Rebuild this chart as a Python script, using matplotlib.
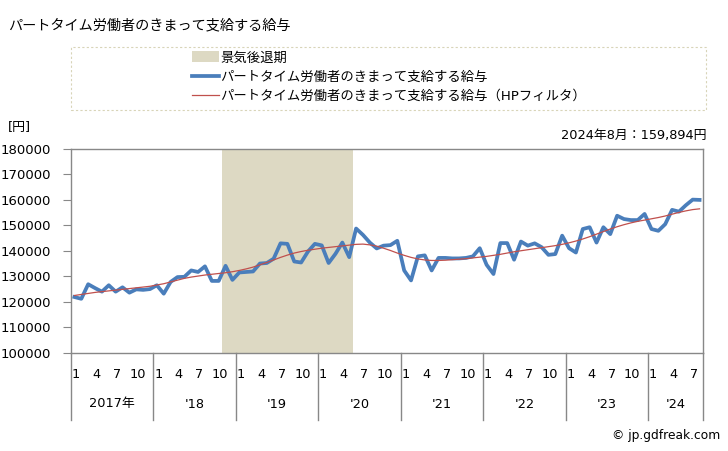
import numpy as np
import matplotlib.pyplot as plt
from matplotlib.patches import Rectangle, Patch
from matplotlib.lines import Line2D
import matplotlib.transforms as mtransforms

plt.rcParams['font.family'] = ['DejaVu Sans', 'Noto Sans CJK JP']

# monthly data, Jan 2017 .. Aug 2024
start_year = 2017
n_months = 92
wage = [121900, 121200, 126900, 125400, 124000, 126500, 124000, 125700, 123600, 124900, 124700, 125000,
        126500, 123200, 127800, 129700, 129800, 132300, 131700, 133900, 128200, 128200, 134100, 128600,
        131500, 131700, 131900, 135000, 135200, 136900, 142900, 142700, 135800, 135400, 139700, 142700,
        142100, 135200, 138800, 143200, 137500, 148700, 146200, 143200, 140900, 142000, 142200, 143900,
        132300, 128400, 137800, 138200, 132300, 137200, 137200, 137000, 137000, 137200, 137800, 141000,
        134500, 130900, 143000, 143000, 136500, 143600, 142000, 142900, 141400, 138400, 138700, 145900,
        141000, 139300, 148500, 149200, 143200, 149200, 146500, 153700, 152400, 152000, 152000, 154400,
        148500, 147800, 150400, 156000, 155300, 157800, 160000, 159894]
trend = [122500, 122900, 123300, 123700, 124000, 124300, 124600, 124900, 125200, 125500, 125800, 126100,
         126600, 127100, 127800, 128500, 129200, 129700, 130100, 130500, 130800, 131100, 131400, 131800,
         132300, 132900, 133600, 134500, 135400, 136400, 137400, 138300, 139100, 139700, 140200, 140600,
         141000, 141300, 141600, 141900, 142200, 142500, 142600, 142300, 141800, 141000, 140100, 139100,
         138200, 137400, 136800, 136400, 136200, 136200, 136300, 136500, 136700, 136900, 137200, 137500,
         137800, 138200, 138600, 139100, 139600, 140000, 140400, 140800, 141200, 141600, 142000, 142500,
         143100, 143800, 144600, 145500, 146500, 147500, 148500, 149400, 150200, 150900, 151500, 152000,
         152500, 153000, 153600, 154300, 155000, 155600, 156100, 156400]
# recession: Nov 2018 .. May 2020 (month index)
recession = (22, 40)
year_labels = ['2017年', "'18", "'19", "'20", "'21", "'22", "'23", "'24"]
month_labels = ['1', '4', '7', '10']

title = 'パートタイム労働者のきまって支給する給与'
lbl_rec = '景気後退期'
lbl_wage = 'パートタイム労働者のきまって支給する給与'
lbl_trend = 'パートタイム労働者のきまって支給する給与（HPフィルタ）'
latest = '2024年8月：159,894円'

blue = '#4A7EBB'
red = '#C0504D'
tan = '#DDD9C3'
gray = '#888888'

W, H = 728, 451
fig = plt.figure(figsize=(W / 100, H / 100), dpi=100)
L, R, T, B = 71, 703, 148.5, 353
ax = fig.add_axes([L / W, 1 - B / H, (R - L) / W, (B - T) / H])

x = np.arange(n_months) + 0.5
ax.axvspan(recession[0], recession[1] + 1, color=tan, lw=0, zorder=1)
ax.plot(x, wage, color=blue, lw=2.7, zorder=3)
ax.plot(x, trend, color=red, lw=0.9, zorder=4)

ax.set_xlim(0, n_months)
ax.set_ylim(100000, 180000)
ax.set_yticks(np.arange(100000, 180001, 10000))
ax.set_yticklabels([str(v) for v in range(100000, 180001, 10000)], fontsize=9.5)
ax.tick_params(axis='y', direction='out', length=6, color=gray, pad=8.4)
ax.set_xticks([])
for s in ax.spines.values():
    s.set_color(gray)
    s.set_linewidth(1)

# two-level category axis
trans = mtransforms.blended_transform_factory(ax.transData, ax.transAxes)
axh = (B - T)
y_sep = -(420 - B) / axh
y_month = -(374 - B) / axh
y_year = -(404 - B) / axh
bounds = list(range(0, n_months, 12)) + [n_months]
for b in bounds:
    ax.plot([b, b], [0, y_sep], color=gray, lw=1, transform=trans, clip_on=False)
for k, yl in enumerate(year_labels):
    lo, hi = bounds[k], bounds[k + 1]
    ax.text((lo + hi) / 2, y_year, yl, transform=trans, ha='center', va='center', fontsize=9.3)
for i in range(n_months):
    m = i % 12 + 1
    if str(m) in month_labels:
        ax.text(i + 0.7, y_month, str(m), transform=trans, ha='center', va='center', fontsize=9.3)

# texts
fig.text(8 / W, 1 - 25 / H, title, fontsize=10.2, va='center', ha='left')
fig.text(8 / W, 1 - 127 / H, '[円]', fontsize=9.3, va='center', ha='left')
fig.text(706 / W, 1 - 135 / H, latest, fontsize=9.3, va='center', ha='right')
fig.text(720 / W, 1 - 435 / H, '© jp.gdfreak.com', fontsize=8.8, va='center', ha='right')

# legend box
fig.patches.append(Rectangle((71 / W, 1 - 110 / H), (706 - 71) / W, (110 - 47) / H,
                             transform=fig.transFigure, fill=False, ec='#D8D4B8',
                             lw=0.8, ls=(0, (2, 2))))
handles = [Patch(facecolor=tan, edgecolor='none'),
           Line2D([], [], color=blue, lw=2.7),
           Line2D([], [], color=red, lw=0.9)]
fig.legend(handles, [lbl_rec, lbl_wage, lbl_trend], loc='upper left',
           bbox_to_anchor=(183 / W, 1 - 42 / H), frameon=False, fontsize=9.6,
           handlelength=2.0, handleheight=0.9, handletextpad=0.1, labelspacing=0.45,
           borderpad=0.2)

fig.savefig('out.png', dpi=100)
